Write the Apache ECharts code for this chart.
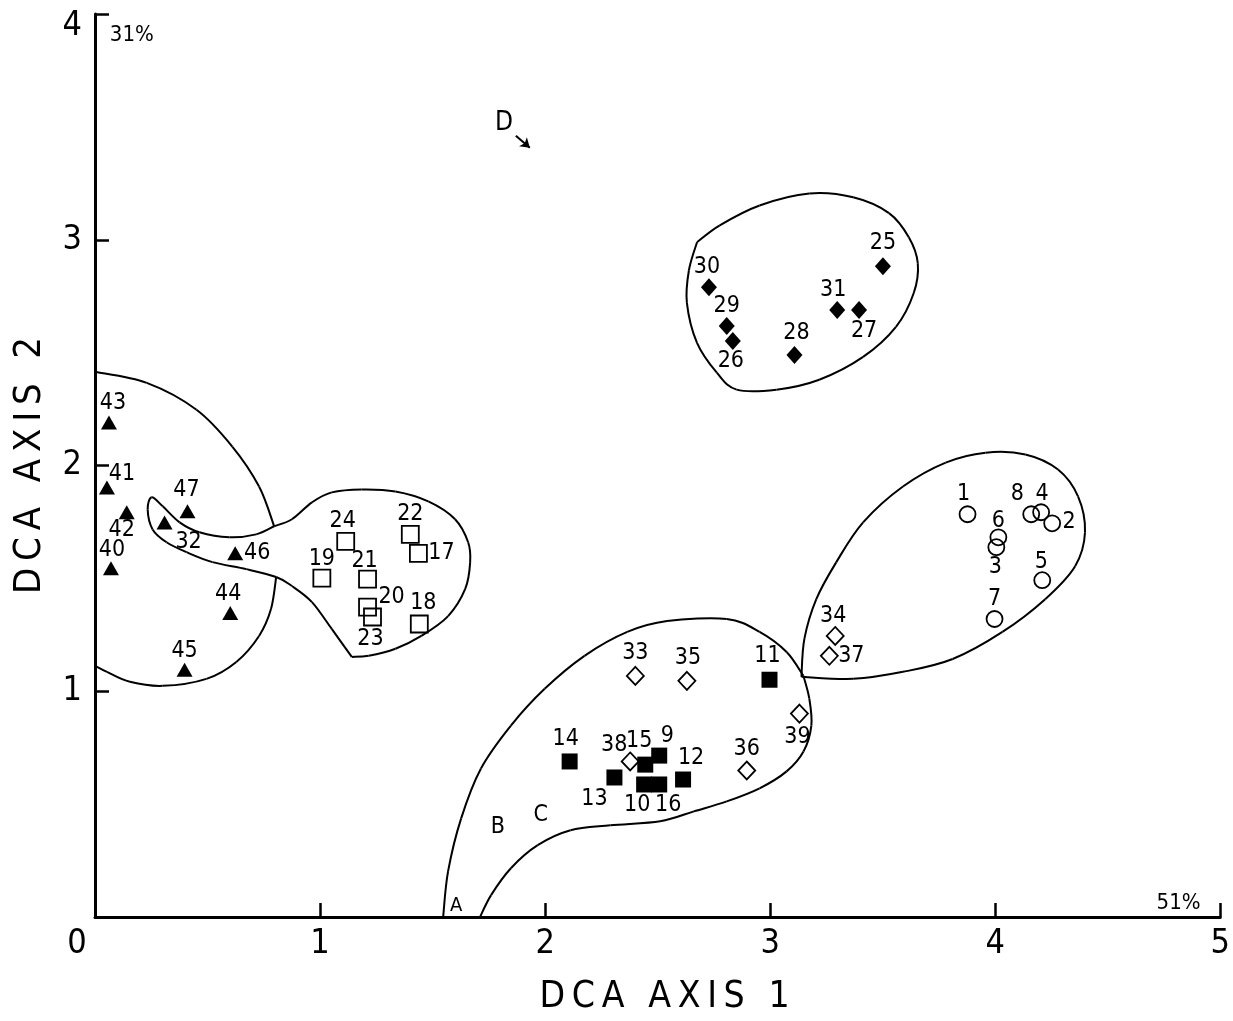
<!DOCTYPE html>
<html><head><meta charset="utf-8">
<script src="https://cdn.jsdelivr.net/npm/echarts@6/dist/echarts.min.js"></script>
<style>html,body{margin:0;padding:0;background:#fff}#c{width:1233px;height:1021px}</style>
</head><body><div id="c"></div>
<script>
// ---- axis ticks ----
const xTicks = [0, 1, 2, 3, 4, 5];
const yTicks = [0, 1, 2, 3, 4];
const xAxisName = 'DCA AXIS 1';
const yAxisName = 'DCA AXIS 2';

// ---- sample points: [label, DCA axis 1, DCA axis 2] ----
const triangles = [['43',0.062,2.190],['41',0.053,1.903],['42',0.141,1.793],['40',0.071,1.545],['47',0.411,1.797],['32',0.309,1.748],['46',0.623,1.611],['44',0.601,1.347],['45',0.398,1.095]];
const openSquares = [['24',1.114,1.664],['22',1.401,1.695],['17',1.437,1.611],['19',1.008,1.501],['21',1.211,1.497],['20',1.211,1.373],['23',1.233,1.329],['18',1.441,1.298]];
const filledDiamonds = [['25',3.501,2.883],['30',2.728,2.790],['29',2.807,2.618],['26',2.834,2.552],['28',3.108,2.490],['31',3.298,2.689],['27',3.395,2.689]];
const filledSquares = [['11',2.997,1.051],['14',2.109,0.689],['15',2.445,0.675],['9',2.507,0.715],['13',2.308,0.618],['10',2.440,0.587],['16',2.507,0.587],['12',2.613,0.609]];
const openDiamonds = [['33',2.401,1.068],['35',2.630,1.046],['39',3.130,0.901],['38',2.378,0.689],['36',2.896,0.649],['34',3.289,1.245],['37',3.263,1.157]];
const circles = [['1',3.877,1.784],['8',4.160,1.784],['4',4.204,1.793],['2',4.253,1.744],['6',4.014,1.682],['3',4.005,1.638],['5',4.209,1.492],['7',3.997,1.320]];

// ---- enclosure outlines (data coordinates) ----
const encTriTop = [[0,2.415],[0.230,2.366],[0.451,2.247],[0.610,2.084],[0.729,1.907],[0.796,1.731]];
const encTriBottom = [[0.805,1.506],[0.782,1.364],[0.729,1.245],[0.628,1.130],[0.495,1.055],[0.301,1.024],[0.155,1.042],[0.053,1.086],[0,1.113]];
const encSqRight = [[0.796,1.731],[0.875,1.762],[0.964,1.837],[1.052,1.881],[1.185,1.894],[1.335,1.885],[1.481,1.841],[1.600,1.762],[1.658,1.660],[1.667,1.572],[1.645,1.453],[1.569,1.333],[1.450,1.245],[1.335,1.188],[1.216,1.157],[1.141,1.152]];
const encSqTongue = [[1.141,1.152],[1.052,1.276],[0.964,1.395],[0.875,1.466],[0.805,1.506],[0.672,1.541],[0.522,1.572],[0.407,1.616],[0.318,1.660],[0.256,1.717],[0.234,1.806],[0.252,1.859],[0.301,1.819],[0.376,1.748],[0.464,1.704],[0.597,1.682],[0.716,1.695],[0.796,1.731]];
const encDiamond = [[2.675,2.989],[2.776,3.064],[2.953,3.152],[3.174,3.205],[3.369,3.188],[3.528,3.118],[3.616,3.011],[3.656,2.896],[3.638,2.764],[3.559,2.614],[3.413,2.481],[3.218,2.380],[3.028,2.336],[2.851,2.336],[2.763,2.411],[2.675,2.543],[2.630,2.720],[2.639,2.865],[2.675,2.989]];
const encBottomUpper = [[1.547,0],[1.569,0.203],[1.627,0.437],[1.715,0.658],[1.848,0.848],[1.998,1.011],[2.175,1.157],[2.365,1.263],[2.542,1.311],[2.807,1.320],[2.953,1.263],[3.073,1.174],[3.148,1.068]];
const encBottomLower = [[3.148,1.068],[3.174,0.967],[3.183,0.848],[3.148,0.733],[3.073,0.645],[2.953,0.570],[2.807,0.512],[2.661,0.468],[2.511,0.424],[2.290,0.406],[2.113,0.384],[1.967,0.318],[1.848,0.216],[1.760,0.097],[1.711,0]];
const encCircle = [[3.139,1.064],[3.369,1.055],[3.590,1.086],[3.811,1.143],[4.032,1.263],[4.222,1.408],[4.355,1.554],[4.399,1.704],[4.368,1.863],[4.279,1.982],[4.134,2.049],[3.957,2.057],[3.780,2.013],[3.590,1.907],[3.413,1.748],[3.294,1.572],[3.205,1.408],[3.152,1.232],[3.139,1.064]];

// ---- annotations ----
const letterNotes = [['A',1.605,0.049],['B',1.790,0.397],['C',1.981,0.450],['D',1.817,3.514]];
const percentNotes = [['31%',0.066,3.907],['51%',4.717,0.062]];
const arrowD = [[1.870,3.461],[1.932,3.408]];

// ---- label placement (pixel offsets from marker centre) ----
const labelOffsets = {
 '43':[4,-20],'41':[15,-13],'42':[-5,18],'40':[1,-18],'47':[-1,-21],'32':[24,20],'46':[22,0],'44':[-2,-19],'45':[0,-19],
 '24':[-3,-20],'22':[0,-20],'17':[23,0],'19':[0,-19],'21':[-3,-18],'20':[24,-10],'23':[-2,22],'18':[4,-21],
 '25':[0,-23],'30':[-2,-20],'29':[0,-20],'26':[-2,20],'28':[2,-22],'31':[-4,-20],'27':[5,21],
 '33':[0,-23],'35':[1,-23],'11':[-2,-24],'39':[-2,23],'14':[-4,-22],'38':[-16,-16],'15':[-6,-24],'9':[8,-20],'12':[8,-21],'13':[-20,22],'10':[-7,21],'16':[9,21],'36':[0,-21],
 '1':[-4,-20],'8':[-14,-20],'4':[1,-18],'2':[17,-1],'6':[0,-16],'3':[-1,20],'5':[-1,-18],'7':[0,-20],'34':[-2,-20],'37':[22,0]
};

const FONT = "'DejaVu Sans Condensed','Liberation Sans Narrow','DejaVu Sans',sans-serif";
const INK = '#000';

function pts(group) {
  return group.map(([id, x, y]) => ({ name: id, value: [x, y], label: { offset: labelOffsets[id] || [0, -20] } }));
}
function scatter(group, symbol, size, filled) {
  return {
    type: 'scatter', data: pts(group), symbol: symbol, symbolSize: size, z: 5,
    itemStyle: filled ? { color: INK, borderWidth: 0, opacity: 1 } : { color: 'rgba(255,255,255,0)', borderColor: INK, borderWidth: 1.8, opacity: 1 },
    label: { show: true, position: 'inside', formatter: '{b}', color: INK, fontSize: 23, fontFamily: FONT, align: 'center', verticalAlign: 'middle' },
    emphasis: { disabled: true }, silent: true
  };
}
// Catmull-Rom style cubic segments through the projected outline vertices
function outline(d) {
  return {
    type: 'custom', silent: true, z: 2, clip: false,
    data: d,
    encode: { x: 0, y: 1 },
    renderItem: function (params, api) {
      if (params.dataIndex !== 0) return null;
      const p = d.map(v => api.coord(v));
      const n = p.length;
      const children = [];
      for (let i = 0; i < n - 1; i++) {
        const p0 = p[Math.max(i - 1, 0)], p1 = p[i], p2 = p[i + 1], p3 = p[Math.min(i + 2, n - 1)];
        children.push({
          type: 'bezierCurve',
          shape: {
            x1: p1[0], y1: p1[1], x2: p2[0], y2: p2[1],
            cpx1: p1[0] + (p2[0] - p0[0]) / 6, cpy1: p1[1] + (p2[1] - p0[1]) / 6,
            cpx2: p2[0] - (p3[0] - p1[0]) / 6, cpy2: p2[1] - (p3[1] - p1[1]) / 6
          },
          style: { stroke: INK, lineWidth: 2, fill: null }
        });
      }
      return { type: 'group', children: children };
    }
  };
}
function spaced(s) {
  return s.split(' ').map(w => w.split('').join('\u2009')).join('\u2009 \u2009');
}

const chart = echarts.init(document.getElementById('c'), null, { renderer: 'canvas' });
chart.setOption({
  animation: false,
  backgroundColor: '#fff',
  grid: { left: 95, right: 7, top: 14, bottom: 101, containLabel: false },
  xAxis: {
    type: 'value', min: xTicks[0], max: xTicks[xTicks.length - 1], interval: 1,
    name: spaced(xAxisName), nameLocation: 'middle', nameGap: 62,
    nameTextStyle: { fontSize: 37, color: INK, fontFamily: FONT, padding: [0, 0, 0, 14] },
    axisLine: { show: true, onZero: false, lineStyle: { color: INK, width: 3 } },
    axisTick: { show: true, inside: true, length: 14, lineStyle: { color: INK, width: 2.5 } },
    axisLabel: { fontSize: 34, color: INK, fontFamily: FONT, margin: 10,
      formatter: v => v === 0 ? '{z|0}' : String(v),
      rich: { z: { fontSize: 34, color: INK, fontFamily: FONT, padding: [0, 36, 0, 0] } } },
    splitLine: { show: false }
  },
  yAxis: {
    type: 'value', min: yTicks[0], max: yTicks[yTicks.length - 1], interval: 1,
    name: spaced(yAxisName), nameLocation: 'middle', nameGap: 46, nameRotate: 90,
    nameTextStyle: { fontSize: 38, color: INK, fontFamily: FONT },
    axisLine: { show: true, onZero: false, lineStyle: { color: INK, width: 3 } },
    axisTick: { show: true, inside: true, length: 14, lineStyle: { color: INK, width: 2.5 } },
    axisLabel: { fontSize: 34, color: INK, fontFamily: FONT, margin: 13,
      formatter: v => v === 0 ? '' : (v === 4 ? '{t|4}' : String(v)),
      rich: { t: { fontSize: 34, color: INK, fontFamily: FONT, padding: [24, 0, 0, 0] } } },
    splitLine: { show: false }
  },
  series: [
    outline(encTriTop), outline(encTriBottom), outline(encSqRight), outline(encSqTongue),
    outline(encDiamond), outline(encBottomUpper), outline(encBottomLower), outline(encCircle),
    scatter(triangles, 'triangle', [16, 14], true),
    scatter(openSquares, 'rect', 17, false),
    scatter(filledDiamonds, 'diamond', [16, 18], true),
    scatter(filledSquares, 'rect', 16, true),
    scatter(openDiamonds, 'diamond', [17, 18], false),
    scatter(circles, 'circle', 16, false),
    {
      type: 'scatter', symbolSize: 0, silent: true, z: 6,
      itemStyle: { opacity: 1 },
      data: letterNotes.map(([t, x, y]) => ({ name: t, value: [x, y], label: { fontSize: t === 'D' ? 26 : (t === 'A' ? 20 : 23) } })),
      label: { show: true, position: 'inside', formatter: '{b}', color: INK, fontFamily: FONT, align: 'center', verticalAlign: 'middle' },
      markLine: {
        silent: true, symbol: ['none', 'arrow'], symbolSize: 9,
        lineStyle: { color: INK, width: 2, type: 'solid' }, label: { show: false },
        data: [[{ coord: arrowD[0] }, { coord: arrowD[1] }]]
      }
    },
    {
      type: 'scatter', symbolSize: 0, silent: true, z: 6,
      itemStyle: { opacity: 1 },
      data: percentNotes.map(([t, x, y]) => ({ name: t, value: [x, y] })),
      label: { show: true, position: 'inside', formatter: '{b}', color: INK, fontSize: 22, fontFamily: FONT, align: 'left', verticalAlign: 'middle' }
    }
  ]
});
</script></body></html>
